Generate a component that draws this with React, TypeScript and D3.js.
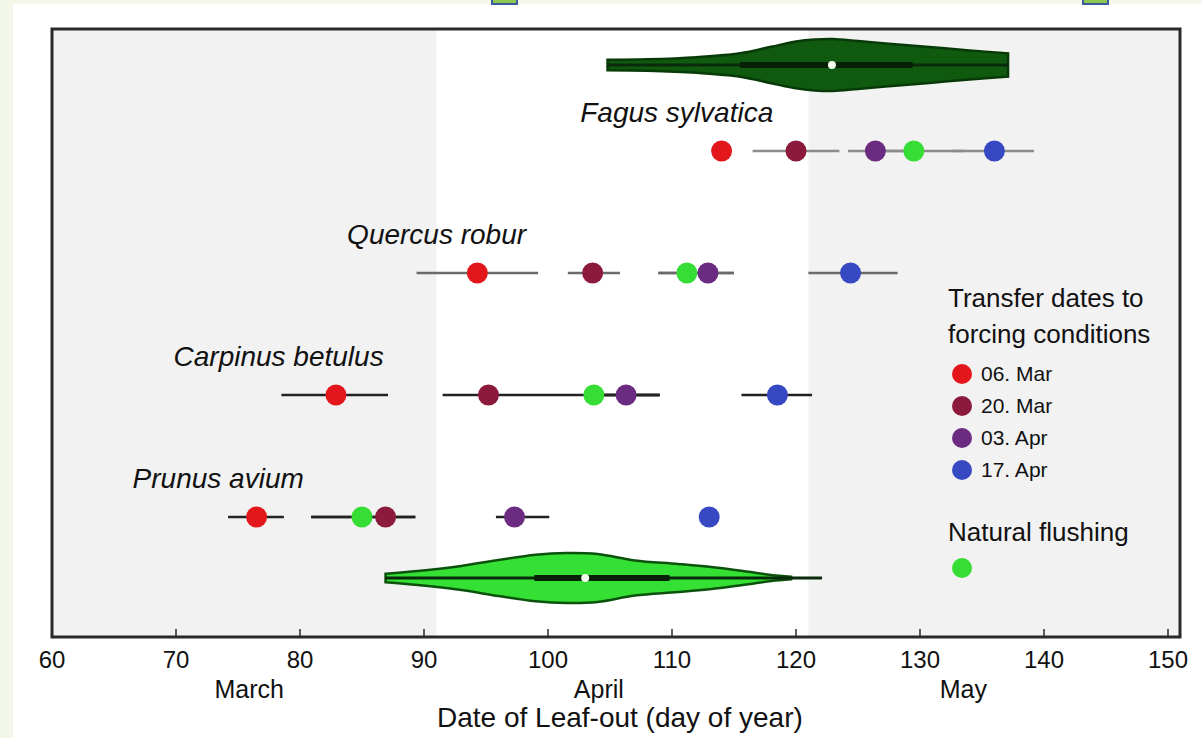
import React from "react";
import * as d3 from "d3";

// Leaf-out day of year per species, for each transfer date to forcing conditions
const species = ["Fagus sylvatica", "Quercus robur", "Carpinus betulus", "Prunus avium"];
const treatments = ["06. Mar", "20. Mar", "03. Apr", "17. Apr", "Natural flushing"];

// mean leaf-out day [species][treatment]
const meanDay = [
  [114, 120, 126.4, 136, 129.5],
  [94.3, 103.6, 112.9, 124.4, 111.2],
  [82.9, 95.2, 106.3, 118.5, 103.7],
  [76.5, 86.9, 97.3, 113, 85],
];
// error-bar low / high [species][treatment]; null = no bar drawn
const lowDay = [
  [null, 116.5, 124.2, 132.6, 126.5],
  [89.4, 101.6, 108.9, 121, 108.9],
  [78.5, 91.5, 103.7, 115.6, 103.7],
  [74.2, 80.9, 95.8, null, 80.9],
];
const highDay = [
  [null, 123.5, 129, 139.2, 133.6],
  [99.2, 105.8, 115, 128.2, 115],
  [87.1, 109, 109, 121.3, 109],
  [78.7, 89.3, 100.1, null, 89.3],
];

// violin density profiles (day, relative density)
const fagusViolinDay = [104.8, 108, 112, 115.5, 118, 120, 121.5, 123, 125, 128, 131, 134, 137.1];
const fagusViolinDensity = [0.2, 0.22, 0.3, 0.45, 0.7, 0.9, 0.98, 1, 0.92, 0.8, 0.68, 0.56, 0.45];
const fagusViolinStats = { min: 104.8, q1: 115.5, median: 122.9, q3: 129.4, max: 137.1 };

const naturalViolinDay = [86.9, 89.5, 93, 96, 99, 101.5, 104, 107, 110.5, 113.5, 116, 118, 119.6];
const naturalViolinDensity = [0.17, 0.28, 0.48, 0.72, 0.93, 1, 0.96, 0.7, 0.56, 0.42, 0.26, 0.12, 0.05];
const naturalViolinStats = { min: 86.9, q1: 98.9, median: 103, q3: 109.8, max: 122.1 };

const xTicks = [60, 70, 80, 90, 100, 110, 120, 130, 140, 150];
const monthLabels = ["March", "April", "May"];
const monthCenters = [75.9, 104.1, 133.5];
const aprilStart = 91;
const mayStart = 121;

const colors = ["#e3161c", "#8c1a3c", "#6a2b80", "#3648c2", "#35dd35"];
const barColors = ["#8c8c8c", "#6a6a6a", "#222222", "#222222"];
const labelDay = [102.6, 83.8, 69.8, 66.5];

const W = 1201;
const H = 738;
const frame = { left: 52, right: 1180, top: 29, bottom: 637 };

const x = d3.scaleLinear().domain([60, 150]).range([52, 1168]);
const y = d3.scaleLinear().domain([0, 5]).range([29, 639]);

const sansFont = "'Liberation Sans', Arial, Helvetica, sans-serif";

function Violin({ days, dens, stats, row, fill, stroke, half }: any) {
  const cy = y(row);
  const pts = days.map((d: number, i: number) => ({ d, w: dens[i] }));
  const area = d3
    .area<any>()
    .x((p) => x(p.d))
    .y0((p) => cy - p.w * half)
    .y1((p) => cy + p.w * half)
    .curve(d3.curveCatmullRom);
  return (
    <g>
      <path d={area(pts) || ""} fill={fill} stroke={stroke} strokeWidth={2.5} />
      <line x1={x(stats.min)} x2={x(stats.max)} y1={cy} y2={cy} stroke="#0b2a0b" strokeWidth={3} />
      <line x1={x(stats.q1)} x2={x(stats.q3)} y1={cy} y2={cy} stroke="#062006" strokeWidth={6} />
      <circle cx={x(stats.median)} cy={cy} r={4} fill="#f4fff0" />
    </g>
  );
}

export default function App() {
  return (
    <svg width={W} height={H} style={{ position: "absolute", left: 0, top: 0 }}>
      <rect x={0} y={0} width={W} height={H} fill="#f3f7e9" />
      <rect x={13} y={4} width={W - 13} height={H - 4} fill="#ffffff" />
      <rect x={492} y={-1} width={25} height={5} fill="#8cc850" stroke="#3b5b9b" strokeWidth={2} />
      <rect x={1083} y={-1} width={25} height={5} fill="#8cc850" stroke="#3b5b9b" strokeWidth={2} />

      {/* plot background: March and May shaded, April white */}
      <rect x={frame.left} y={frame.top} width={frame.right - frame.left} height={frame.bottom - frame.top} fill="#f2f2f2" />
      <rect x={x(aprilStart)} y={frame.top} width={x(mayStart) - x(aprilStart)} height={frame.bottom - frame.top} fill="#ffffff" />

      <Violin days={fagusViolinDay} dens={fagusViolinDensity} stats={fagusViolinStats} row={0.295} fill="#0f5a0f" stroke="#083a08" half={26} />
      <Violin days={naturalViolinDay} dens={naturalViolinDensity} stats={naturalViolinStats} row={4.5} fill="#33e033" stroke="#0c520c" half={25} />

      {species.map((sp, si) => {
        const cy = y(si + 1);
        const order = treatments.map((_, ti) => ti).sort((a, b) => meanDay[si][a] - meanDay[si][b]);
        return (
          <g key={sp}>
            <text x={x(labelDay[si])} y={cy - 29} fontFamily={sansFont} fontStyle="italic" fontSize={28} fill="#111">
              {sp}
            </text>
            {treatments.map((_, ti) =>
              lowDay[si][ti] == null ? null : (
                <line key={ti} x1={x(lowDay[si][ti] as number)} x2={x(highDay[si][ti] as number)} y1={cy} y2={cy} stroke={barColors[si]} strokeWidth={2.5} />
              )
            )}
            {order.map((ti) => (
              <circle key={ti} cx={x(meanDay[si][ti])} cy={cy} r={10.5} fill={colors[ti]} />
            ))}
          </g>
        );
      })}

      {/* frame */}
      <rect x={frame.left} y={frame.top} width={frame.right - frame.left} height={frame.bottom - frame.top} fill="none" stroke="#2a2a2a" strokeWidth={3} />

      {/* x axis */}
      {xTicks.map((t) => (
        <g key={t}>
          <line x1={x(t)} x2={x(t)} y1={frame.bottom} y2={frame.bottom - 8} stroke="#2a2a2a" strokeWidth={1.5} />
          <text x={x(t)} y={668} textAnchor="middle" fontFamily={sansFont} fontSize={24} fill="#111">
            {t}
          </text>
        </g>
      ))}
      {monthLabels.map((m, i) => (
        <text key={m} x={x(monthCenters[i])} y={698} textAnchor="middle" fontFamily={sansFont} fontSize={25} fill="#111">
          {m}
        </text>
      ))}
      <text x={x(105.8)} y={727} textAnchor="middle" fontFamily={sansFont} fontSize={28} fill="#111">
        Date of Leaf-out (day of year)
      </text>

      {/* legend */}
      <text x={948} y={307} fontFamily={sansFont} fontSize={26} fill="#111">Transfer dates to</text>
      <text x={948} y={343} fontFamily={sansFont} fontSize={26} fill="#111">forcing conditions</text>
      {treatments.slice(0, 4).map((t, i) => (
        <g key={t}>
          <circle cx={962} cy={374 + i * 32} r={10} fill={colors[i]} />
          <text x={981} y={381 + i * 32} fontFamily={sansFont} fontSize={21} fill="#111">{t}</text>
        </g>
      ))}
      <text x={948} y={541} fontFamily={sansFont} fontSize={26} fill="#111">{treatments[4]}</text>
      <circle cx={962} cy={568} r={10} fill={colors[4]} />
    </svg>
  );
}
